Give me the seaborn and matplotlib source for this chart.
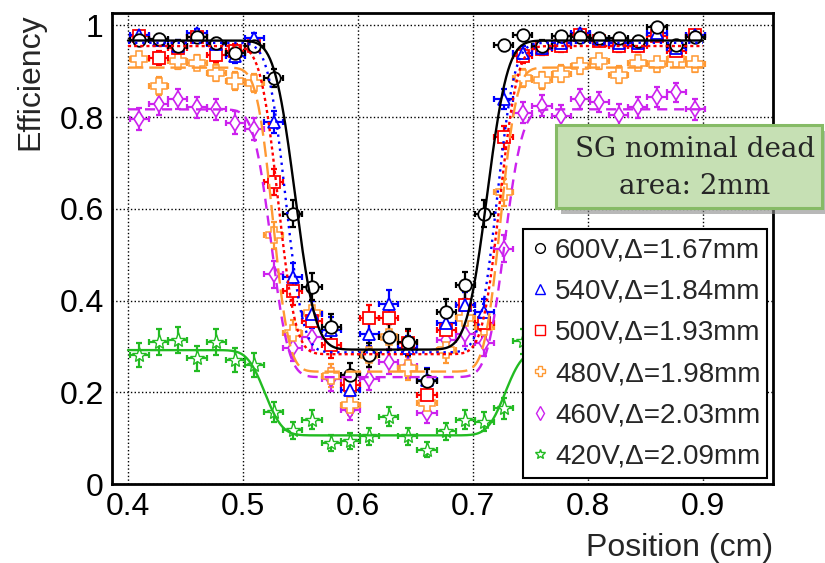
import math
import numpy as np
import pandas as pd
import matplotlib
matplotlib.use("Agg")
import matplotlib.pyplot as plt
from matplotlib.lines import Line2D
from matplotlib.patches import Rectangle
from matplotlib.ticker import MultipleLocator, FixedLocator, FixedFormatter
import seaborn as sns

# ---- measured efficiency scan across the dead area -------------------------
positions = [0.41, 0.4267, 0.4433, 0.46, 0.4767, 0.4933, 0.51, 0.5267, 0.5433, 0.56,
             0.5767, 0.5933, 0.61, 0.6267, 0.6433, 0.66, 0.6767, 0.6933, 0.71, 0.7267,
             0.7433, 0.76, 0.7767, 0.7933, 0.81, 0.8267, 0.8433, 0.86, 0.8767, 0.8933]

eff_600 = [0.968, 0.971, 0.955, 0.975, 0.962, 0.940, 0.955, 0.885, 0.589, 0.430,
           0.343, 0.238, 0.281, 0.321, 0.310, 0.225, 0.375, 0.433, 0.589, 0.957,
           0.980, 0.955, 0.977, 0.975, 0.973, 0.973, 0.966, 0.997, 0.957, 0.975]
eff_540 = [0.980, 0.968, 0.955, 0.984, 0.959, 0.933, 0.973, 0.789, 0.452, 0.370,
           0.335, 0.205, 0.328, 0.393, 0.296, 0.227, 0.350, 0.390, 0.375, 0.839,
           0.940, 0.951, 0.962, 0.984, 0.970, 0.962, 0.962, 0.984, 0.951, 0.980]
eff_500 = [0.977, 0.928, 0.951, 0.975, 0.935, 0.945, 0.955, 0.658, 0.420, 0.355,
           0.303, 0.216, 0.361, 0.361, 0.307, 0.194, 0.335, 0.390, 0.350, 0.756,
           0.933, 0.948, 0.955, 0.980, 0.966, 0.955, 0.955, 0.977, 0.944, 0.980]
eff_480 = [0.926, 0.868, 0.922, 0.919, 0.897, 0.879, 0.875, 0.542, 0.330, 0.372,
           0.236, 0.172, 0.281, 0.321, 0.252, 0.176, 0.292, 0.361, 0.343, 0.636,
           0.885, 0.880, 0.895, 0.912, 0.922, 0.892, 0.919, 0.915, 0.926, 0.915]
eff_460 = [0.796, 0.828, 0.839, 0.821, 0.817, 0.788, 0.774, 0.457, 0.296, 0.321,
           0.228, 0.161, 0.230, 0.267, 0.258, 0.154, 0.314, 0.328, 0.307, 0.513,
           0.810, 0.825, 0.803, 0.839, 0.833, 0.804, 0.821, 0.843, 0.854, 0.817]
eff_420 = [0.281, 0.310, 0.314, 0.274, 0.310, 0.270, 0.259, 0.157, 0.117, 0.140,
           0.089, 0.094, 0.104, 0.147, 0.104, 0.075, 0.115, 0.140, 0.136, 0.165,
           0.311]

voltages = ["600V", "540V", "500V", "480V", "460V", "420V"]
deltas_mm = [1.67, 1.84, 1.93, 1.98, 2.03, 2.09]

# fit parameters of the smeared-box model (plateau, floor, gap centre, edge width)
plateaus = [0.967, 0.962, 0.955, 0.908, 0.817, 0.292]
floors = [0.293, 0.287, 0.283, 0.245, 0.233, 0.106]
centers = [0.6288, 0.629, 0.627, 0.625, 0.626, 0.6235]
sigmas = [0.014, 0.012, 0.012, 0.011, 0.012, 0.012]

n_events = 280            # tracks per position bin
bin_half_width = 1 / 120  # cm

# ---- styling ----------------------------------------------------------------
colors = ["#000000", "#0000ff", "#ff0000", "#ff9933", "#cc22ee", "#22bb22"]
markers = ["o", "^", "s", "P", "d", "*"]
msizes = [9, 9, 8, 11, 8.5, 11]
medges = [1.3, 1.3, 1.3, 1.1, 1.2, 1.0]
dash_styles = ["", (1, 2), (1.3, 1.3), (6.5, 2.5), (4.3, 2.9), ""]

sns.set_style("white")
plt.rcParams["font.family"] = ["Liberation Sans", "DejaVu Sans"]

fig = plt.figure(figsize=(8.25, 5.63), dpi=100)
ax = fig.add_axes([112 / 825, 79 / 563, 661 / 825, 471 / 563])

series = [eff_600, eff_540, eff_500, eff_480, eff_460, eff_420]


def phi(z):
    return 0.5 * (1 + np.vectorize(math.erf)(z / math.sqrt(2)))


# fitted curves
xfit = np.linspace(0.40, 0.90, 600)
rows = []
for v, d, p, f, c, s in zip(voltages, deltas_mm, plateaus, floors, centers, sigmas):
    a = c - d / 20
    b = c + d / 20
    yfit = f + (p - f) * (phi((a - xfit) / s) + phi((xfit - b) / s))
    rows.append(pd.DataFrame({"x": xfit, "eff": yfit, "series": v}))
fit_df = pd.concat(rows, ignore_index=True)

# measured points with binomial errors
draw_order = [5, 4, 3, 2, 1, 0]
for i in draw_order:
    y = np.array(series[i])
    x = np.array(positions[: len(y)])
    yerr = np.sqrt(y * (1 - y) / n_events)
    ax.errorbar(x, y, xerr=bin_half_width, yerr=yerr, fmt="none",
                ecolor=colors[i], elinewidth=1.6, capsize=2.5, capthick=1.6,
                zorder=3)
    ax.plot(x, y, linestyle="none", marker=markers[i], ms=msizes[i],
            mfc="white", mec=colors[i], mew=medges[i], zorder=4)

sns.lineplot(data=fit_df, x="x", y="eff", hue="series", style="series",
             palette=dict(zip(voltages, colors)),
             dashes=dict(zip(voltages, dash_styles)),
             linewidth=1.7, legend=False, ax=ax, zorder=5, sort=False,
             estimator=None)

# axes
ax.set_xlim(0.3861, 0.9609)
ax.set_ylim(0.0, 1.027)
ax.xaxis.set_major_locator(MultipleLocator(0.1))
ax.xaxis.set_minor_locator(MultipleLocator(0.02))
ax.yaxis.set_major_locator(FixedLocator([0, 0.2, 0.4, 0.6, 0.8, 1.0]))
ax.yaxis.set_major_formatter(FixedFormatter(["0", "0.2", "0.4", "0.6", "0.8", "1"]))
ax.yaxis.set_minor_locator(MultipleLocator(0.05))
ax.xaxis.set_major_formatter(matplotlib.ticker.FuncFormatter(lambda v, _: f"{v:.1f}"))

ax.tick_params(axis="both", which="both", direction="in", top=False, right=False,
               width=1.5, labelsize=23, colors="black")
ax.tick_params(axis="x", which="major", length=9.5, pad=6)
ax.tick_params(axis="x", which="minor", length=5.5)
ax.tick_params(axis="y", which="major", length=14.5, pad=6)
ax.tick_params(axis="y", which="minor", length=7.5)
for sp in ax.spines.values():
    sp.set_linewidth(2)
    sp.set_color("black")

ax.grid(True, which="major", linestyle=":", color="black", linewidth=1)
ax.set_axisbelow(True)

ax.set_xlabel("Position (cm)", fontsize=23, ha="right")
ax.xaxis.set_label_coords(1.0, -0.105)
ax.set_ylabel("Efficiency", fontsize=23, ha="right")
ax.yaxis.set_label_coords(-0.101, 1.0)

# legend
handles = [Line2D([], [], linestyle="none", marker=m, ms=7, mfc="none",
                  mec=c, mew=1.0) for m, c in zip(markers, colors)]
labels = [f"{v},\u0394={d:.2f}mm" for v, d in zip(voltages, deltas_mm)]
leg = ax.legend(handles, labels, loc="lower left",
                bbox_to_anchor=(0.622, 0.0127, 0.369, 0.533), mode="expand",
                fontsize=20, frameon=True, fancybox=False, framealpha=1,
                edgecolor="black", borderpad=0.3, labelspacing=0.55,
                handlelength=0.6, handletextpad=0.25, borderaxespad=0)
leg.get_frame().set_linewidth(1.5)
leg.set_zorder(10)

# annotation box
W, H = 825, 563
x0, x1, ytop, ybot = 556, 822, 125, 208
fig.add_artist(Rectangle(((x0 + 5) / W, 1 - (ybot + 6) / H), (x1 - x0) / W,
                         (ybot - ytop) / H, transform=fig.transFigure,
                         facecolor="#8a8a8a", edgecolor="none", alpha=0.6,
                         zorder=20))
fig.add_artist(Rectangle((x0 / W, 1 - ybot / H), (x1 - x0) / W, (ybot - ytop) / H,
                         transform=fig.transFigure, facecolor="#c6e0b4",
                         edgecolor="#86bb66", linewidth=2.2, zorder=21))
fig.text(695 / W, 1 - 168 / H, "SG nominal dead\narea: 2mm", ha="center",
         va="center", fontsize=20, family=["DejaVu Serif"], linespacing=1.45,
         zorder=22)

fig.savefig("out.png", dpi=100)
